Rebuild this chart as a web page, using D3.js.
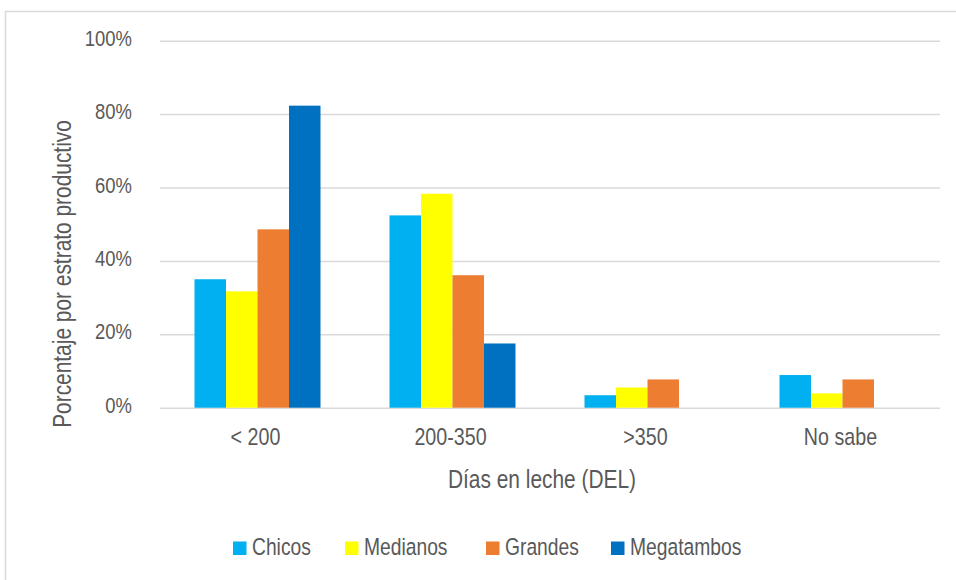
<!DOCTYPE html>
<html>
<head>
<meta charset="utf-8">
<script src="https://cdn.jsdelivr.net/npm/d3@7"></script>
<style>
  html, body { margin: 0; padding: 0; background: #ffffff; }
  svg { display: block; }
  text { font-family: "Liberation Sans", Arial, sans-serif; fill: #595959; }
</style>
</head>
<body>
<svg id="chart" width="956" height="580"></svg>
<script>
const categories = ["< 200", "200-350", ">350", "No sabe"];
const seriesNames = ["Chicos", "Medianos", "Grandes", "Megatambos"];
const seriesColors = ["#00B0F0", "#FFFF00", "#ED7D31", "#0070C0"];
const chicos = [0.35, 0.524, 0.034, 0.089];
const medianos = [0.317, 0.583, 0.055, 0.039];
const grandes = [0.486, 0.361, 0.077, 0.077];
const megatambos = [0.823, 0.175, 0, 0];
const yTicks = [0, 0.2, 0.4, 0.6, 0.8, 1.0];
const yTitle = "Porcentaje por estrato productivo";
const xTitle = "Días en leche (DEL)";

const seriesValues = [chicos, medianos, grandes, megatambos];
const narrow = 0.82; // emulate a narrow font
const svg = d3.select("#chart");

// outer chart border
svg.append("rect")
  .attr("x", 5.5).attr("y", 11.5)
  .attr("width", 1000).attr("height", 600)
  .attr("fill", "none").attr("stroke", "#D9D9D9").attr("stroke-width", 1.5);

const plot = { left: 160, right: 940, top: 40.7, bottom: 407.7 };

const pad = 69 / 195;
const x0 = d3.scaleBand().domain(categories).range([plot.left, plot.right])
  .paddingInner(pad).paddingOuter(pad / 2);
const x1 = d3.scaleBand().domain(seriesNames).range([0, x0.bandwidth()]);
const y = d3.scaleLinear().domain([0, 1]).range([plot.bottom, plot.top]);

// gridlines + y tick labels
const yAxis = d3.axisLeft(y).tickValues(yTicks).tickSize(-(plot.right - plot.left))
  .tickFormat(d => d3.format(".0%")(d));
const gy = svg.append("g").attr("transform", `translate(${plot.left},0)`).call(yAxis);
gy.select(".domain").remove();
gy.selectAll(".tick line").attr("stroke", "#D9D9D9").attr("stroke-width", 1.5);
gy.selectAll(".tick text")
  .attr("x", 0).attr("dy", "0.2em")
  .attr("transform", `translate(-28,0) scale(${narrow},1)`)
  .attr("font-size", 22.5).attr("font-family", null)
  .attr("fill", "#595959");

// bars
const groups = svg.append("g").selectAll("g")
  .data(categories).join("g")
  .attr("transform", d => `translate(${x0(d)},0)`);
groups.selectAll("rect")
  .data((c, ci) => seriesNames.map((s, si) => ({ s, si, v: seriesValues[si][ci] })))
  .join("rect")
  .filter(d => d.v > 0)
  .attr("x", d => x1(d.s))
  .attr("width", x1.bandwidth())
  .attr("y", d => y(d.v))
  .attr("height", d => y(0) - y(d.v))
  .attr("fill", d => seriesColors[d.si]);

// x axis labels
const xAxis = d3.axisBottom(x0).tickSize(0).tickPadding(0);
const gx = svg.append("g").attr("transform", `translate(0,${plot.bottom})`).call(xAxis);
gx.select(".domain").remove();
gx.selectAll(".tick text")
  .attr("y", 0).attr("dy", 0)
  .attr("transform", `translate(-2,37) scale(${narrow},1)`)
  .attr("font-size", 24).attr("font-family", null)
  .attr("fill", "#595959");

// axis titles
svg.append("text")
  .attr("transform", `translate(542,488) scale(${narrow},1)`)
  .attr("text-anchor", "middle")
  .attr("font-size", 25.5)
  .text(xTitle);

svg.append("text")
  .attr("transform", `translate(71,274) rotate(-90) scale(${narrow},1)`)
  .attr("text-anchor", "middle")
  .attr("font-size", 25.5)
  .text(yTitle);

// legend
const legendX = [233, 345, 486, 611];
const legend = svg.append("g");
seriesNames.forEach((s, i) => {
  const g = legend.append("g").attr("transform", `translate(${legendX[i]},541.5)`);
  g.append("rect").attr("width", 13.5).attr("height", 13.5).attr("fill", seriesColors[i]);
  g.append("text").attr("transform", `translate(19,13.5) scale(${narrow},1)`)
    .attr("font-size", 23.5).text(s);
});
</script>
</body>
</html>
